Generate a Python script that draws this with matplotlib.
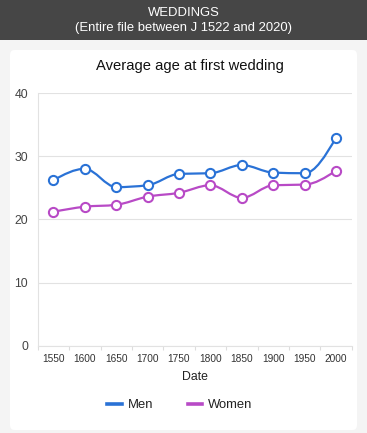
"""Average age at first wedding, men and women, 1550 - 2000"""
import matplotlib
matplotlib.use('Agg')
import matplotlib.pyplot as plt
from matplotlib.path import Path
from matplotlib.patches import PathPatch, Rectangle, FancyBboxPatch
from matplotlib.lines import Line2D

dates = ['1550', '1600', '1650', '1700', '1750', '1800', '1850', '1900', '1950', '2000']
men = [26.2, 28.0, 25.1, 25.4, 27.2, 27.3, 28.6, 27.4, 27.3, 32.9]
women = [21.2, 22.0, 22.3, 23.6, 24.2, 25.4, 23.4, 25.4, 25.5, 27.7]
y_ticks = [0, 10, 20, 30, 40]

MEN_C = '#2a72d6'
WOMEN_C = '#b84ac6'
W, H = 367, 433


def sign(v):
    return (v > 0) - (v < 0)


def smooth_path(xs, ys):
    """monotone cubic curve through the points, as bezier segments"""
    n = len(xs)
    s = [(ys[i + 1] - ys[i]) / (xs[i + 1] - xs[i]) for i in range(n - 1)]
    m = [0.0] * n
    for i in range(1, n - 1):
        h0 = xs[i] - xs[i - 1]
        h1 = xs[i + 1] - xs[i]
        p = (s[i - 1] * h1 + s[i] * h0) / (h0 + h1)
        m[i] = (sign(s[i - 1]) + sign(s[i])) * min(abs(s[i - 1]), abs(s[i]), 0.5 * abs(p))
    m[0] = (3 * s[0] - m[1]) / 2
    m[-1] = (3 * s[-1] - m[-2]) / 2
    verts = [(xs[0], ys[0])]
    codes = [Path.MOVETO]
    for i in range(n - 1):
        dx = (xs[i + 1] - xs[i]) / 3
        verts += [(xs[i] + dx, ys[i] + m[i] * dx),
                  (xs[i + 1] - dx, ys[i + 1] - m[i + 1] * dx),
                  (xs[i + 1], ys[i + 1])]
        codes += [Path.CURVE4] * 3
    return Path(verts, codes)


plt.rcParams['font.family'] = ['Liberation Sans', 'DejaVu Sans']
fig = plt.figure(figsize=(W / 100, H / 100), dpi=100, facecolor='#f4f4f4')

# header band + white card (behind the axes)
fig.patches.append(Rectangle((0, 1 - 40 / H), 1, 40 / H, transform=fig.transFigure,
                             facecolor='#464646', edgecolor='none', zorder=-2))
fig.patches.append(FancyBboxPatch((10 / W, 3 / H), 347 / W, 380 / H,
                                  boxstyle='round,pad=0,rounding_size=0.012',
                                  transform=fig.transFigure, facecolor='white',
                                  edgecolor='none', zorder=-2))
fig.text(0.5, 1 - 12.5 / H, 'WEDDINGS', color='white', fontsize=9.4, ha='center', va='center')
fig.text(0.5, 1 - 28 / H, '(Entire file between J 1522 and 2020)', color='white',
         fontsize=9.4, ha='center', va='center')
fig.text(190 / W, 1 - 66 / H, 'Average age at first wedding', fontsize=10.6,
         color='#111111', ha='center', va='center')

ax = fig.add_axes([37.7 / W, 87.3 / H, 314 / W, 252.7 / H])
ax.set_facecolor('white')
x = list(range(len(dates)))

ax.add_patch(PathPatch(smooth_path(x, men), fill=False, edgecolor=MEN_C, lw=1.6, zorder=3))
ax.add_patch(PathPatch(smooth_path(x, women), fill=False, edgecolor=WOMEN_C, lw=1.6, zorder=3))
ax.plot(x, men, ls='none', marker='o', ms=6.6, mfc='white', mec=MEN_C, mew=1.5, zorder=4)
ax.plot(x, women, ls='none', marker='o', ms=6.6, mfc='white', mec=WOMEN_C, mew=1.5, zorder=4)

ax.set_xlim(-0.5, len(dates) - 0.5)
ax.set_ylim(0, 40)
ax.set_yticks(y_ticks)
ax.set_yticklabels([str(v) for v in y_ticks], fontsize=8.8, color='#444444')
ax.grid(axis='y', color='#e2e2e2', lw=0.8)
ax.set_axisbelow(True)
ax.set_xticks(x)
ax.set_xticklabels(dates, fontsize=7.3, color='#333333')
ax.set_xticks([i - 0.5 for i in range(len(dates) + 1)], minor=True)
ax.tick_params(axis='x', which='major', length=0, pad=6)
ax.tick_params(axis='x', which='minor', length=3, color='#dddddd', width=0.8)
ax.tick_params(axis='y', length=0, pad=7)
for s in ['top', 'right']:
    ax.spines[s].set_visible(False)
ax.spines['left'].set_color('#e2e2e2')
ax.spines['bottom'].set_color('#e2e2e2')
ax.spines['left'].set_linewidth(0.8)
ax.spines['bottom'].set_linewidth(0.8)

ax.set_xlabel('Date', fontsize=8.8, color='#222222', labelpad=5)

handles = [Line2D([], [], color=MEN_C, lw=2.6), Line2D([], [], color=WOMEN_C, lw=2.6)]
fig.legend(handles, ['Men', 'Women'], loc='center', bbox_to_anchor=(180 / W, 1 - 405 / H),
           ncol=2, frameon=False, fontsize=9.4, handlelength=1.1, handletextpad=0.5,
           columnspacing=2.6, labelcolor='#222222')

fig.savefig('out.png', dpi=100, facecolor=fig.get_facecolor())
